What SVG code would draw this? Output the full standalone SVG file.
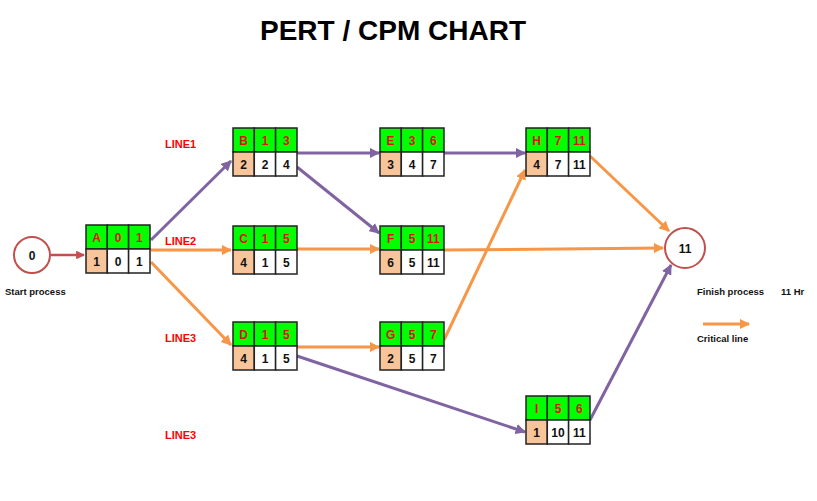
<svg xmlns="http://www.w3.org/2000/svg" width="817" height="501" viewBox="0 0 817 501">
<style>
text{font-family:"Liberation Sans",Arial,sans-serif;font-weight:bold}
.g{fill:#00ff00;stroke:#222;stroke-width:1.5}
.o{fill:#f8c49a;stroke:#222;stroke-width:1.5}
.w{fill:#fff;stroke:#222;stroke-width:1.5}
.r{fill:#e01010;font-size:12px;text-anchor:middle}
.k{fill:#111;font-size:12px;text-anchor:middle}
.lab{fill:#ff0000;font-size:11px}
.s{fill:#111;font-size:9.5px}
.p{stroke:#8064a2;stroke-width:3;fill:none;marker-end:url(#mp)}
.or{stroke:#f79646;stroke-width:3;fill:none;marker-end:url(#mo)}
</style>
<defs>
<marker id="mp" viewBox="0 0 10 10" refX="9" refY="5" markerWidth="3.5" markerHeight="3.5" orient="auto"><path d="M0,0L10,5L0,10z" fill="#8064a2"/></marker>
<marker id="mo" viewBox="0 0 10 10" refX="9" refY="5" markerWidth="3.5" markerHeight="3.5" orient="auto"><path d="M0,0L10,5L0,10z" fill="#f79646"/></marker>
<marker id="mr" viewBox="0 0 10 10" refX="9" refY="5" markerWidth="3.5" markerHeight="3.5" orient="auto"><path d="M0,0L10,5L0,10z" fill="#c0504d"/></marker>
<g id="box">
<rect class="g" x="0" y="0" width="21.3" height="24"/><rect class="g" x="21.3" y="0" width="21.3" height="24"/><rect class="g" x="42.6" y="0" width="21.4" height="24"/>
<rect class="o" x="0" y="24" width="21.3" height="24"/><rect class="w" x="21.3" y="24" width="21.3" height="24"/><rect class="w" x="42.6" y="24" width="21.4" height="24"/>
</g>
</defs>
<text x="393" y="40" font-size="28" text-anchor="middle" fill="#000">PERT / CPM CHART</text>
<g id="connectors">
<line x1="51" y1="255" x2="84" y2="255" stroke="#c0504d" stroke-width="2.5" marker-end="url(#mr)"/>
<line class="p" x1="151" y1="240" x2="231" y2="161"/>
<line class="or" x1="151" y1="250" x2="231" y2="250"/>
<line class="or" x1="151" y1="262" x2="231" y2="345"/>
<line class="p" x1="297" y1="153" x2="379" y2="153"/>
<line class="p" x1="297" y1="167" x2="379" y2="233"/>
<line class="or" x1="297" y1="249" x2="379" y2="249"/>
<line class="or" x1="297" y1="347" x2="379" y2="347"/>
<line class="p" x1="297" y1="356" x2="525" y2="432"/>
<line class="p" x1="444" y1="153" x2="525" y2="153"/>
<line class="or" x1="444" y1="250" x2="663" y2="248"/>
<line class="or" x1="444" y1="340" x2="525" y2="170"/>
<line class="or" x1="590" y1="156" x2="669" y2="231"/>
<line class="p" x1="590" y1="420" x2="671" y2="265"/>
<line class="or" x1="703" y1="324" x2="749" y2="324"/>
</g>
<g id="start"><circle cx="32" cy="255" r="18" fill="#fff" stroke="#c0504d" stroke-width="2"/><text x="32" y="260" class="k" font-size="13">0</text></g>
<g id="end"><circle cx="685" cy="248" r="20" fill="#fff" stroke="#c0504d" stroke-width="2"/><text x="685" y="253" class="k">11</text></g>
<g id="A" transform="translate(86,225)"><use href="#box"/><text class="r" x="10.6" y="17">A</text><text class="r" x="32" y="17">0</text><text class="r" x="53.3" y="17">1</text><text class="k" x="10.6" y="41">1</text><text class="k" x="32" y="41">0</text><text class="k" x="53.3" y="41">1</text></g>
<g id="B" transform="translate(233,128)"><use href="#box"/><text class="r" x="10.6" y="17">B</text><text class="r" x="32" y="17">1</text><text class="r" x="53.3" y="17">3</text><text class="k" x="10.6" y="41">2</text><text class="k" x="32" y="41">2</text><text class="k" x="53.3" y="41">4</text></g>
<g id="C" transform="translate(233,226)"><use href="#box"/><text class="r" x="10.6" y="17">C</text><text class="r" x="32" y="17">1</text><text class="r" x="53.3" y="17">5</text><text class="k" x="10.6" y="41">4</text><text class="k" x="32" y="41">1</text><text class="k" x="53.3" y="41">5</text></g>
<g id="D" transform="translate(233,322)"><use href="#box"/><text class="r" x="10.6" y="17">D</text><text class="r" x="32" y="17">1</text><text class="r" x="53.3" y="17">5</text><text class="k" x="10.6" y="41">4</text><text class="k" x="32" y="41">1</text><text class="k" x="53.3" y="41">5</text></g>
<g id="E" transform="translate(380,128)"><use href="#box"/><text class="r" x="10.6" y="17">E</text><text class="r" x="32" y="17">3</text><text class="r" x="53.3" y="17">6</text><text class="k" x="10.6" y="41">3</text><text class="k" x="32" y="41">4</text><text class="k" x="53.3" y="41">7</text></g>
<g id="F" transform="translate(380,226)"><use href="#box"/><text class="r" x="10.6" y="17">F</text><text class="r" x="32" y="17">5</text><text class="r" x="53.3" y="17">11</text><text class="k" x="10.6" y="41">6</text><text class="k" x="32" y="41">5</text><text class="k" x="53.3" y="41">11</text></g>
<g id="G" transform="translate(380,322)"><use href="#box"/><text class="r" x="10.6" y="17">G</text><text class="r" x="32" y="17">5</text><text class="r" x="53.3" y="17">7</text><text class="k" x="10.6" y="41">2</text><text class="k" x="32" y="41">5</text><text class="k" x="53.3" y="41">7</text></g>
<g id="H" transform="translate(526,128)"><use href="#box"/><text class="r" x="10.6" y="17">H</text><text class="r" x="32" y="17">7</text><text class="r" x="53.3" y="17">11</text><text class="k" x="10.6" y="41">4</text><text class="k" x="32" y="41">7</text><text class="k" x="53.3" y="41">11</text></g>
<g id="I" transform="translate(526,396)"><use href="#box"/><text class="r" x="10.6" y="17">I</text><text class="r" x="32" y="17">5</text><text class="r" x="53.3" y="17">6</text><text class="k" x="10.6" y="41">1</text><text class="k" x="32" y="41">10</text><text class="k" x="53.3" y="41">11</text></g>
<g id="labels">
<text class="lab" x="165" y="148">LINE1</text>
<text class="lab" x="165" y="245">LINE2</text>
<text class="lab" x="165" y="342">LINE3</text>
<text class="lab" x="165" y="439">LINE3</text>
<text class="s" x="5" y="295">Start process</text>
<text class="s" x="697" y="295">Finish process</text>
<text class="s" x="781" y="295">11 Hr</text>
<text class="s" x="697" y="342">Critical line</text>
</g>
</svg>
